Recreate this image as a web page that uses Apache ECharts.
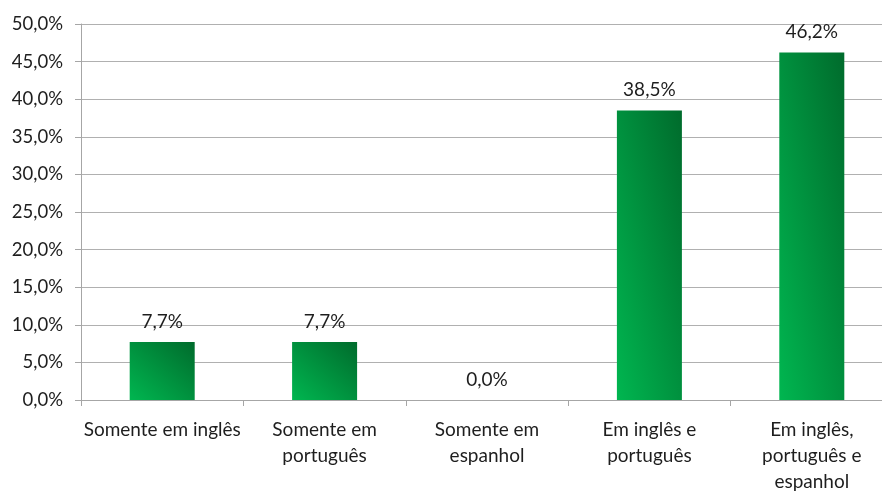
<!DOCTYPE html>
<html><head><meta charset="utf-8">
<script src="https://cdn.jsdelivr.net/npm/echarts@6/dist/echarts.min.js"></script>
<style>html,body{margin:0;padding:0;background:#fff}#c{width:882px;height:492px}</style>
</head><body><div id="c"></div>
<script>
const categories = ["Somente em inglês", "Somente em\nportuguês", "Somente em\nespanhol", "Em inglês e\nportuguês", "Em inglês,\nportuguês e\nespanhol"];
const values = [7.7, 7.7, 0.0, 38.5, 46.2];
const yMax = 50;
const fmt = v => v.toFixed(1).replace('.', ',') + '%';
const font = 'Lato, "Open Sans", sans-serif';
const plotH = 376, barW = 65;
function grad(v) {
  const w = barW, h = Math.max(1, v / yMax * plotH);
  const k = 2 / (1 / (w * w) + 1 / (h * h));
  return new echarts.graphic.LinearGradient(0, 1, k / (w * w), 1 - k / (h * h), [
    { offset: 0, color: '#00b650' },
    { offset: 1, color: '#006b2c' }
  ]);
}
const chart = echarts.init(document.getElementById('c'));
chart.setOption({
  animation: false,
  grid: { left: 81, width: 812, top: 24, height: plotH, containLabel: false, outerBoundsMode: 'none' },
  xAxis: {
    type: 'category', data: categories,
    axisLine: { lineStyle: { color: '#a6a6a6', width: 1 } },
    axisTick: { show: true, length: 6, lineStyle: { color: '#a6a6a6' } },
    axisLabel: { color: '#1e1e1e', fontFamily: font, fontSize: 19, lineHeight: 26, margin: 17, interval: 0 }
  },
  yAxis: {
    type: 'value', min: 0, max: yMax, interval: 5,
    axisLine: { show: true, lineStyle: { color: '#a6a6a6' } },
    axisTick: { show: true, length: 6, lineStyle: { color: '#a6a6a6' } },
    splitLine: { lineStyle: { color: '#b0b0b0', width: 1 } },
    axisLabel: { color: '#1e1e1e', fontFamily: font, fontSize: 18.5, margin: 18, formatter: v => fmt(v) }
  },
  series: [{
    type: 'bar', barWidth: barW,
    data: values.map(v => ({ value: v, itemStyle: { color: grad(v) } })),
    label: { show: true, position: 'top', distance: 11, color: '#1e1e1e', fontFamily: font, fontSize: 19, formatter: p => fmt(p.value) }
  }]
});
</script></body></html>
